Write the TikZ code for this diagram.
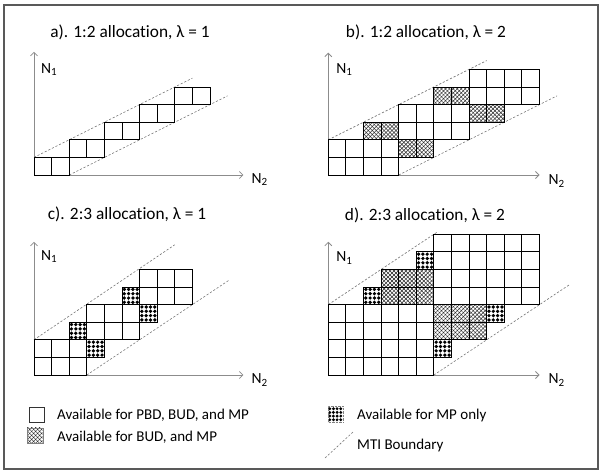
\documentclass[tikz,border=0pt]{standalone}
\usepackage{fontspec}
\setmainfont{Carlito}[Ligatures=NoCommon]
\usetikzlibrary{patterns.meta,arrows.meta}
\tikzset{
  cellbox/.style={draw=black, line width=0.85pt},
  axisline/.style={draw=black!45, line width=0.8pt, -{Straight Barb[length=3.5pt,width=7pt]}},
  mti/.style={draw=black!55, line width=0.6pt, dash pattern=on 2.2pt off 1.8pt},
  ptitle/.style={font=\fontsize{17.3}{20}\selectfont, inner sep=0pt},
  axlabel/.style={font=\fontsize{15.5}{18}\selectfont, anchor=west, inner sep=0pt},
  legtext/.style={font=\fontsize{15}{18}\selectfont, anchor=west, inner sep=0pt},
  xhatchA/.style={pattern={Lines[angle=45,distance=2.8pt,line width=0.5pt]}, pattern color=black!85},
  xhatchB/.style={pattern={Lines[angle=-45,distance=2.8pt,line width=0.5pt]}, pattern color=black!85},
}
\newcommand\Sb[1]{\raisebox{-0.35ex}{\fontsize{11}{12}\selectfont #1}}
\newcommand\WBlock[4]{%
  \foreach \i in {1,...,#3}{\foreach \j in {1,...,#4}{%
    \draw[cellbox, fill=white] ({#1+\i-1},{#2+\j-1}) rectangle ++(1,1);}}}
\newcommand\HCell[2]{%
  \fill[white] (#1,#2) rectangle ++(1,1);
  \fill[xhatchA] (#1,#2) rectangle ++(1,1);
  \fill[xhatchB] (#1,#2) rectangle ++(1,1);
  \draw[cellbox] (#1,#2) rectangle ++(1,1);}
\newcommand\DCell[2]{%
  \fill[white] (#1,#2) rectangle ++(1,1);
  \foreach \a in {0.13,0.375,0.62,0.865}{\foreach \b in {0.13,0.375,0.62,0.865}{%
    \fill[black] ({#1+\a},{#2+\b}) circle[radius=1.85pt];}}
  \draw[cellbox] (#1,#2) rectangle ++(1,1);}
\begin{document}
\begin{tikzpicture}
\useasboundingbox (0,0) rectangle (604pt,475pt);
\draw[black!65, line width=1.2pt] (4pt,6pt) rectangle (598pt,470pt);

% titles
\node[ptitle] (ta) at (130pt,443pt) {a). 1:2 allocation, λ = 1};
\node[ptitle] (tb) at (426pt,443pt) {b). 1:2 allocation, λ = 2};
\node[ptitle] (tc) at (127pt,261pt) {c). 2:3 allocation, λ = 1};
\node[ptitle] (td) at (425pt,260pt) {d). 2:3 allocation, λ = 2};

% ---------- panel a
\begin{scope}[shift={(34pt,300pt)}, x=17.6pt, y=17.6pt]
  \coordinate (oa) at (0,0); \coordinate (ya) at (0,7); \coordinate (xa) at (11.9,0);
  \coordinate (ua1) at (0,1); \coordinate (ua2) at (9,5.5);
  \coordinate (la1) at (2,0); \coordinate (la2) at (11,4.5);
  \draw[axisline] (oa) -- (ya);
  \draw[axisline] (oa) -- (xa);
  \draw[mti] (ua1) -- (ua2);
  \draw[mti] (la1) -- (la2);
  \WBlock{0}{0}{2}{1}
  \WBlock{2}{1}{2}{1}
  \WBlock{4}{2}{2}{1}
  \WBlock{6}{3}{2}{1}
  \WBlock{8}{4}{2}{1}
  \node[axlabel] (n1a) at (0.4,6) {N\Sb{1}};
  \node[axlabel] (n2a) at (12.35,-0.25) {N\Sb{2}};
\end{scope}

% ---------- panel b
\begin{scope}[shift={(328.3pt,300pt)}, x=17.6pt, y=17.6pt]
  \coordinate (ob) at (0,0); \coordinate (yb) at (0,6.95); \coordinate (xb) at (12,0);
  \coordinate (ub1) at (0,2); \coordinate (ub2) at (9,6.5);
  \coordinate (lb1) at (4,0); \coordinate (lb2) at (13,4.5);
  \draw[axisline] (ob) -- (yb);
  \draw[axisline] (ob) -- (xb);
  \draw[mti] (ub1) -- (ub2);
  \draw[mti] (lb1) -- (lb2);
  \WBlock{0}{0}{4}{2}
  \WBlock{4}{2}{4}{2}
  \WBlock{8}{4}{4}{2}
  \HCell{2}{2}\HCell{3}{2}
  \HCell{6}{4}\HCell{7}{4}
  \HCell{4}{1}\HCell{5}{1}
  \HCell{8}{3}\HCell{9}{3}
  \node[axlabel] (n1b) at (0.45,6) {N\Sb{1}};
  \node[axlabel] (n2b) at (12.5,-0.35) {N\Sb{2}};
\end{scope}

% ---------- panel c
\begin{scope}[shift={(34pt,100pt)}, x=17.6pt, y=17.6pt]
  \coordinate (oc) at (0,0); \coordinate (yc) at (0,7.57); \coordinate (xc) at (11.9,0);
  \coordinate (uc1) at (0,2); \coordinate (uc2) at (8,7.4);
  \coordinate (lc1) at (3,0); \coordinate (lc2) at (11.1,5.4);
  \draw[axisline] (oc) -- (yc);
  \draw[axisline] (oc) -- (xc);
  \draw[mti] (uc1) -- (uc2);
  \draw[mti] (lc1) -- (lc2);
  \WBlock{0}{0}{3}{2}
  \WBlock{3}{2}{3}{2}
  \WBlock{6}{4}{3}{2}
  \DCell{3}{1}\DCell{2}{2}\DCell{6}{3}\DCell{5}{4}
  \node[axlabel] (n1c) at (0.4,6.72) {N\Sb{1}};
  \node[axlabel] (n2c) at (12.35,-0.28) {N\Sb{2}};
\end{scope}

% ---------- panel d
\begin{scope}[shift={(328.3pt,100pt)}, x=17.6pt, y=17.6pt]
  \coordinate (od) at (0,0); \coordinate (yd) at (0,7.57); \coordinate (xd) at (12,0);
  \coordinate (ud1) at (0,4); \coordinate (ud2) at (6.2,8.13);
  \coordinate (ld1) at (6,0); \coordinate (ld2) at (13.7,5.13);
  \draw[axisline] (od) -- (yd);
  \draw[axisline] (od) -- (xd);
  \draw[mti] (ud1) -- (ud2);
  \draw[mti] (ld1) -- (ld2);
  \WBlock{0}{0}{6}{4}
  \WBlock{6}{4}{6}{4}
  \foreach \c in {3,4,5}{\foreach \r in {4,5}{\HCell{\c}{\r}}}
  \foreach \c in {6,7,8}{\foreach \r in {2,3}{\HCell{\c}{\r}}}
  \DCell{2}{4}\DCell{5}{6}\DCell{6}{1}\DCell{9}{3}
  \node[axlabel] (n1d) at (0.45,6.63) {N\Sb{1}};
  \node[axlabel] (n2d) at (12.5,-0.28) {N\Sb{2}};
\end{scope}

% ---------- legend
\node[draw=black!80, line width=0.8pt, fill=white, minimum size=15pt, inner sep=0pt] (lw) at (37pt,60.5pt) {};
\node[legtext] (lwt) at (57pt,60pt) {Available for PBD, BUD, and MP};
\node[minimum size=15pt, inner sep=0pt] (lh) at (35pt,39.5pt) {};
\fill[xhatchA] (lh.south west) rectangle (lh.north east);
\fill[xhatchB] (lh.south west) rectangle (lh.north east);
\draw[black!50, line width=0.4pt] (lh.south west) rectangle (lh.north east);
\node[legtext] (lht) at (57pt,38pt) {Available for BUD, and MP};
\node[minimum size=15pt, inner sep=0pt] (ld) at (335.5pt,61pt) {};
\begin{scope}[shift={(ld.south west)}, x=15pt, y=15pt]
  \foreach \a in {0.13,0.375,0.62,0.865}{\foreach \b in {0.13,0.375,0.62,0.865}{%
    \fill[black] (\a,\b) circle[radius=1.6pt];}}
\end{scope}
\draw[black!50, line width=0.4pt, densely dotted] (ld.south west) rectangle (ld.north east);
\node[legtext] (ldt) at (357pt,60pt) {Available for MP only};
\coordinate (lm1) at (325pt,17pt); \coordinate (lm2) at (353pt,43pt);
\draw[mti] (lm1) -- (lm2);
\node[legtext] (lmt) at (357pt,30pt) {MTI Boundary};
\end{tikzpicture}
\end{document}
